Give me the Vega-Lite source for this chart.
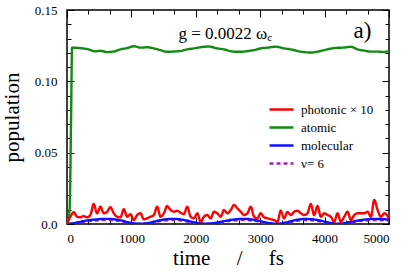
{
"$schema": "https://vega.github.io/schema/vega-lite/v6.json",
"width": 322, "height": 214,
"autosize": "none",
"padding": {"left": 67, "top": 10, "right": 18, "bottom": 48},
"config": {
  "view": {"stroke": "black", "strokeWidth": 1.5},
  "axis": {"grid": false, "domain": false, "tickColor": "black", "tickWidth": 1, "labelColor": "black", "titleColor": "black"}
},
"datasets": {"d": [
{"s":"ν= 6","t":0,"v":0},{"s":"ν= 6","t":100,"v":0.0004},{"s":"ν= 6","t":200,"v":0.0011},{"s":"ν= 6","t":300,"v":0.0018},{"s":"ν= 6","t":400,"v":0.0023},{"s":"ν= 6","t":500,"v":0.0026},{"s":"ν= 6","t":620,"v":0.0028},{"s":"ν= 6","t":750,"v":0.0025},{"s":"ν= 6","t":850,"v":0.0018},{"s":"ν= 6","t":950,"v":0.0009},{"s":"ν= 6","t":1050,"v":0.0003},{"s":"ν= 6","t":1140,"v":0.0001},{"s":"ν= 6","t":1250,"v":0.0004},{"s":"ν= 6","t":1350,"v":0.0012},{"s":"ν= 6","t":1450,"v":0.0021},{"s":"ν= 6","t":1550,"v":0.0026},{"s":"ν= 6","t":1650,"v":0.0028},{"s":"ν= 6","t":1750,"v":0.0026},{"s":"ν= 6","t":1850,"v":0.0019},{"s":"ν= 6","t":1950,"v":0.0011},{"s":"ν= 6","t":2070,"v":0.0004},{"s":"ν= 6","t":2180,"v":0.0001},{"s":"ν= 6","t":2300,"v":0.0006},{"s":"ν= 6","t":2420,"v":0.0014},{"s":"ν= 6","t":2530,"v":0.0022},{"s":"ν= 6","t":2640,"v":0.0026},{"s":"ν= 6","t":2750,"v":0.0028},{"s":"ν= 6","t":2860,"v":0.0025},{"s":"ν= 6","t":2970,"v":0.0018},{"s":"ν= 6","t":3080,"v":0.0009},{"s":"ν= 6","t":3180,"v":0.0003},{"s":"ν= 6","t":3270,"v":0.0001},{"s":"ν= 6","t":3380,"v":0.0007},{"s":"ν= 6","t":3480,"v":0.0015},{"s":"ν= 6","t":3580,"v":0.0023},{"s":"ν= 6","t":3680,"v":0.0027},{"s":"ν= 6","t":3790,"v":0.0026},{"s":"ν= 6","t":3900,"v":0.0021},{"s":"ν= 6","t":4000,"v":0.0013},{"s":"ν= 6","t":4100,"v":0.0005},{"s":"ν= 6","t":4200,"v":0.0001},{"s":"ν= 6","t":4300,"v":0.0004},{"s":"ν= 6","t":4420,"v":0.0012},{"s":"ν= 6","t":4540,"v":0.002},{"s":"ν= 6","t":4660,"v":0.0025},{"s":"ν= 6","t":4780,"v":0.0027},{"s":"ν= 6","t":4900,"v":0.0026},{"s":"ν= 6","t":5000,"v":0.0024},
{"s":"molecular","t":0,"v":0},{"s":"molecular","t":100,"v":0.0006},{"s":"molecular","t":200,"v":0.0015},{"s":"molecular","t":300,"v":0.0024},{"s":"molecular","t":400,"v":0.003},{"s":"molecular","t":500,"v":0.0034},{"s":"molecular","t":620,"v":0.0036},{"s":"molecular","t":750,"v":0.0032},{"s":"molecular","t":850,"v":0.0024},{"s":"molecular","t":950,"v":0.0012},{"s":"molecular","t":1050,"v":0.0004},{"s":"molecular","t":1140,"v":0.0002},{"s":"molecular","t":1250,"v":0.0006},{"s":"molecular","t":1350,"v":0.0016},{"s":"molecular","t":1450,"v":0.0027},{"s":"molecular","t":1550,"v":0.0034},{"s":"molecular","t":1650,"v":0.0036},{"s":"molecular","t":1750,"v":0.0033},{"s":"molecular","t":1850,"v":0.0025},{"s":"molecular","t":1950,"v":0.0014},{"s":"molecular","t":2070,"v":0.0005},{"s":"molecular","t":2180,"v":0.0002},{"s":"molecular","t":2300,"v":0.0008},{"s":"molecular","t":2420,"v":0.0018},{"s":"molecular","t":2530,"v":0.0028},{"s":"molecular","t":2640,"v":0.0034},{"s":"molecular","t":2750,"v":0.0036},{"s":"molecular","t":2860,"v":0.0032},{"s":"molecular","t":2970,"v":0.0024},{"s":"molecular","t":3080,"v":0.0012},{"s":"molecular","t":3180,"v":0.0004},{"s":"molecular","t":3270,"v":0.0002},{"s":"molecular","t":3380,"v":0.0009},{"s":"molecular","t":3480,"v":0.002},{"s":"molecular","t":3580,"v":0.003},{"s":"molecular","t":3680,"v":0.0035},{"s":"molecular","t":3790,"v":0.0034},{"s":"molecular","t":3900,"v":0.0027},{"s":"molecular","t":4000,"v":0.0017},{"s":"molecular","t":4100,"v":0.0007},{"s":"molecular","t":4200,"v":0.0002},{"s":"molecular","t":4300,"v":0.0006},{"s":"molecular","t":4420,"v":0.0016},{"s":"molecular","t":4540,"v":0.0026},{"s":"molecular","t":4660,"v":0.0033},{"s":"molecular","t":4780,"v":0.0035},{"s":"molecular","t":4900,"v":0.0034},{"s":"molecular","t":5000,"v":0.0031},
{"s":"atomic","t":0,"v":0},{"s":"atomic","t":40,"v":0.01},{"s":"atomic","t":65,"v":0.08},{"s":"atomic","t":78,"v":0.1236},{"s":"atomic","t":207,"v":0.1233},{"s":"atomic","t":336,"v":0.1224},{"s":"atomic","t":440,"v":0.1210},{"s":"atomic","t":518,"v":0.1214},{"s":"atomic","t":622,"v":0.1205},{"s":"atomic","t":726,"v":0.1209},{"s":"atomic","t":829,"v":0.1224},{"s":"atomic","t":933,"v":0.1233},{"s":"atomic","t":1040,"v":0.1246},{"s":"atomic","t":1140,"v":0.1236},{"s":"atomic","t":1245,"v":0.1239},{"s":"atomic","t":1348,"v":0.1231},{"s":"atomic","t":1452,"v":0.1219},{"s":"atomic","t":1556,"v":0.1207},{"s":"atomic","t":1659,"v":0.1209},{"s":"atomic","t":1763,"v":0.1213},{"s":"atomic","t":1867,"v":0.1224},{"s":"atomic","t":1970,"v":0.1231},{"s":"atomic","t":2074,"v":0.1239},{"s":"atomic","t":2200,"v":0.1244},{"s":"atomic","t":2334,"v":0.1231},{"s":"atomic","t":2437,"v":0.1224},{"s":"atomic","t":2593,"v":0.1208},{"s":"atomic","t":2697,"v":0.1207},{"s":"atomic","t":2800,"v":0.1212},{"s":"atomic","t":2904,"v":0.1219},{"s":"atomic","t":3008,"v":0.1231},{"s":"atomic","t":3112,"v":0.1236},{"s":"atomic","t":3241,"v":0.1243},{"s":"atomic","t":3371,"v":0.1231},{"s":"atomic","t":3475,"v":0.1224},{"s":"atomic","t":3630,"v":0.1208},{"s":"atomic","t":3786,"v":0.1202},{"s":"atomic","t":3890,"v":0.1208},{"s":"atomic","t":3993,"v":0.1219},{"s":"atomic","t":4149,"v":0.1233},{"s":"atomic","t":4304,"v":0.1237},{"s":"atomic","t":4408,"v":0.1242},{"s":"atomic","t":4512,"v":0.1224},{"s":"atomic","t":4615,"v":0.1215},{"s":"atomic","t":4719,"v":0.1208},{"s":"atomic","t":4823,"v":0.1208},{"s":"atomic","t":4927,"v":0.1206},{"s":"atomic","t":5000,"v":0.1214},
{"s":"photonic × 10","t":0,"v":0.0005},{"s":"photonic × 10","t":52,"v":0.0051},{"s":"photonic × 10","t":104,"v":0.0082},{"s":"photonic × 10","t":156,"v":0.0051},{"s":"photonic × 10","t":207,"v":0.0047},{"s":"photonic × 10","t":259,"v":0.0056},{"s":"photonic × 10","t":311,"v":0.0047},{"s":"photonic × 10","t":363,"v":0.0063},{"s":"photonic × 10","t":415,"v":0.014},{"s":"photonic × 10","t":467,"v":0.0075},{"s":"photonic × 10","t":519,"v":0.0121},{"s":"photonic × 10","t":571,"v":0.0075},{"s":"photonic × 10","t":622,"v":0.0086},{"s":"photonic × 10","t":674,"v":0.0117},{"s":"photonic × 10","t":726,"v":0.0075},{"s":"photonic × 10","t":778,"v":0.0051},{"s":"photonic × 10","t":830,"v":0.0047},{"s":"photonic × 10","t":882,"v":0.0103},{"s":"photonic × 10","t":934,"v":0.0051},{"s":"photonic × 10","t":986,"v":0.0068},{"s":"photonic × 10","t":1037,"v":0.0028},{"s":"photonic × 10","t":1089,"v":0.0063},{"s":"photonic × 10","t":1141,"v":0.0075},{"s":"photonic × 10","t":1193,"v":0.0033},{"s":"photonic × 10","t":1245,"v":0.004},{"s":"photonic × 10","t":1297,"v":0.0051},{"s":"photonic × 10","t":1349,"v":0.0063},{"s":"photonic × 10","t":1400,"v":0.0121},{"s":"photonic × 10","t":1452,"v":0.0051},{"s":"photonic × 10","t":1504,"v":0.0075},{"s":"photonic × 10","t":1556,"v":0.0126},{"s":"photonic × 10","t":1608,"v":0.0098},{"s":"photonic × 10","t":1660,"v":0.0086},{"s":"photonic × 10","t":1712,"v":0.0093},{"s":"photonic × 10","t":1763,"v":0.0079},{"s":"photonic × 10","t":1815,"v":0.007},{"s":"photonic × 10","t":1867,"v":0.0121},{"s":"photonic × 10","t":1919,"v":0.0051},{"s":"photonic × 10","t":1971,"v":0.004},{"s":"photonic × 10","t":2023,"v":0.0075},{"s":"photonic × 10","t":2075,"v":0.0016},{"s":"photonic × 10","t":2126,"v":0.0051},{"s":"photonic × 10","t":2178,"v":0.0063},{"s":"photonic × 10","t":2230,"v":0.004},{"s":"photonic × 10","t":2282,"v":0.0086},{"s":"photonic × 10","t":2334,"v":0.0075},{"s":"photonic × 10","t":2386,"v":0.0051},{"s":"photonic × 10","t":2438,"v":0.0098},{"s":"photonic × 10","t":2490,"v":0.0075},{"s":"photonic × 10","t":2542,"v":0.0098},{"s":"photonic × 10","t":2593,"v":0.0133},{"s":"photonic × 10","t":2645,"v":0.011},{"s":"photonic × 10","t":2697,"v":0.0086},{"s":"photonic × 10","t":2749,"v":0.0063},{"s":"photonic × 10","t":2801,"v":0.0075},{"s":"photonic × 10","t":2853,"v":0.0121},{"s":"photonic × 10","t":2905,"v":0.0051},{"s":"photonic × 10","t":2956,"v":0.004},{"s":"photonic × 10","t":3008,"v":0.0075},{"s":"photonic × 10","t":3060,"v":0.0047},{"s":"photonic × 10","t":3112,"v":0.004},{"s":"photonic × 10","t":3164,"v":0.0033},{"s":"photonic × 10","t":3216,"v":0.0028},{"s":"photonic × 10","t":3268,"v":0.0016},{"s":"photonic × 10","t":3319,"v":0.0093},{"s":"photonic × 10","t":3371,"v":0.004},{"s":"photonic × 10","t":3423,"v":0.0084},{"s":"photonic × 10","t":3475,"v":0.0063},{"s":"photonic × 10","t":3527,"v":0.0086},{"s":"photonic × 10","t":3579,"v":0.0093},{"s":"photonic × 10","t":3631,"v":0.0075},{"s":"photonic × 10","t":3682,"v":0.0063},{"s":"photonic × 10","t":3734,"v":0.0075},{"s":"photonic × 10","t":3786,"v":0.014},{"s":"photonic × 10","t":3838,"v":0.0063},{"s":"photonic × 10","t":3890,"v":0.0126},{"s":"photonic × 10","t":3942,"v":0.0051},{"s":"photonic × 10","t":3994,"v":0.0075},{"s":"photonic × 10","t":4045,"v":0.0063},{"s":"photonic × 10","t":4097,"v":0.0051},{"s":"photonic × 10","t":4149,"v":0.0016},{"s":"photonic × 10","t":4201,"v":0.0075},{"s":"photonic × 10","t":4253,"v":0.0016},{"s":"photonic × 10","t":4305,"v":0.0051},{"s":"photonic × 10","t":4356,"v":0.0086},{"s":"photonic × 10","t":4408,"v":0.0028},{"s":"photonic × 10","t":4460,"v":0.0063},{"s":"photonic × 10","t":4512,"v":0.0075},{"s":"photonic × 10","t":4564,"v":0.0075},{"s":"photonic × 10","t":4616,"v":0.0075},{"s":"photonic × 10","t":4668,"v":0.0086},{"s":"photonic × 10","t":4719,"v":0.0051},{"s":"photonic × 10","t":4771,"v":0.0168},{"s":"photonic × 10","t":4823,"v":0.0098},{"s":"photonic × 10","t":4875,"v":0.0051},{"s":"photonic × 10","t":4927,"v":0.0075},{"s":"photonic × 10","t":5000,"v":0.004}
]},
"layer": [
  {
    "data": {"name": "d"},
    "mark": {"type": "line", "interpolate": "monotone", "clip": true},
    "encoding": {
      "x": {"field": "t", "type": "quantitative", "scale": {"domain": [0, 5000], "nice": false},
            "axis": {"orient": "bottom", "values": [0,1000,2000,3000,4000,5000], "format": "d", "tickSize": -7, "labelPadding": 15, "labelFont": "Liberation Serif", "labelFontSize": 13, "title": "time\u00a0\u00a0\u00a0\u00a0\u00a0/\u00a0\u00a0\u00a0\u00a0\u00a0fs", "titleFont": "Liberation Serif", "titleFontSize": 21, "titleFontWeight": "normal", "titlePadding": 2}},
      "y": {"field": "v", "type": "quantitative", "scale": {"domain": [0, 0.15], "nice": false},
            "axis": {"orient": "left", "values": [0, 0.05, 0.1, 0.15], "tickSize": -7, "labelPadding": 17, "labelFont": "Liberation Serif", "labelFontSize": 13, "labelExpr": "datum.value === 0 ? '0.0' : datum.label", "title": "population", "titleFont": "Liberation Serif", "titleFontSize": 21, "titleFontWeight": "normal", "titlePadding": 12}},
      "color": {"field": "s", "type": "nominal",
                "scale": {"domain": ["photonic × 10", "atomic", "molecular", "ν= 6"], "range": ["#ff0000", "#138a13", "#1010ff", "#a020b0"]},
                "legend": {"orient": "none", "legendX": 207, "legendY": 92, "title": null, "symbolType": "M-2,0H2", "symbolSize": 144, "symbolStrokeWidth": 2.5, "rowPadding": 3, "labelOffset": 12, "labelFont": "Liberation Serif", "labelFontSize": 13, "labelColor": "black"}},
      "strokeDash": {"field": "s", "type": "nominal",
                "scale": {"domain": ["photonic × 10", "atomic", "molecular", "ν= 6"], "range": [[1,0],[1,0],[1,0],[4,3]]},
                "legend": {"orient": "none", "legendX": 207, "legendY": 92, "title": null, "symbolType": "M-2,0H2", "symbolSize": 144, "symbolStrokeWidth": 2.5, "rowPadding": 3, "labelOffset": 12, "labelFont": "Liberation Serif", "labelFontSize": 13, "labelColor": "black"}},
      "strokeWidth": {"field": "s", "type": "nominal",
                "scale": {"domain": ["photonic × 10", "atomic", "molecular", "ν= 6"], "range": [2.4, 2.4, 2.4, 1.5]}, "legend": null}
    }
  },
  {
    "data": {"name": "d"},
    "mark": {"type": "point", "opacity": 0},
    "encoding": {
      "x": {"field": "t", "type": "quantitative", "axis": {"orient": "bottom", "values": [333.33,666.67,1333.33,1666.67,2333.33,2666.67,3333.33,3666.67,4333.33,4666.67], "tickSize": -4, "labels": false, "title": null}},
      "y": {"field": "v", "type": "quantitative", "axis": {"orient": "left", "values": [0.01,0.02,0.03,0.04,0.06,0.07,0.08,0.09,0.11,0.12,0.13,0.14], "tickSize": -4, "labels": false, "title": null}}
    }
  },
  {
    "data": {"name": "d"},
    "mark": {"type": "point", "opacity": 0},
    "encoding": {
      "x": {"field": "t", "type": "quantitative", "axis": {"orient": "top", "values": [0,1000,2000,3000,4000,5000], "tickSize": -7, "labels": false, "title": null}},
      "y": {"field": "v", "type": "quantitative", "axis": {"orient": "right", "values": [0, 0.05, 0.1, 0.15], "tickSize": -7, "labels": false, "title": null}}
    }
  },
  {
    "data": {"name": "d"},
    "mark": {"type": "point", "opacity": 0},
    "encoding": {
      "x": {"field": "t", "type": "quantitative", "axis": {"orient": "top", "values": [333.33,666.67,1333.33,1666.67,2333.33,2666.67,3333.33,3666.67,4333.33,4666.67], "tickSize": -4, "labels": false, "title": null}},
      "y": {"field": "v", "type": "quantitative", "axis": {"orient": "right", "values": [0.01,0.02,0.03,0.04,0.06,0.07,0.08,0.09,0.11,0.12,0.13,0.14], "tickSize": -4, "labels": false, "title": null}}
    }
  },
  {
    "data": {"values": [{"label": "g = 0.0022 ω"}]},
    "mark": {"type": "text", "align": "left", "baseline": "alphabetic", "fontSize": 17, "font": "Liberation Serif", "color": "black"},
    "encoding": {
      "x": {"datum": 1730, "type": "quantitative", "axis": null},
      "y": {"datum": 0.1296, "type": "quantitative", "axis": null},
      "text": {"field": "label"}
    }
  },
  {
    "data": {"values": [{"label": "c"}]},
    "mark": {"type": "text", "align": "left", "baseline": "alphabetic", "fontSize": 11, "font": "Liberation Serif", "color": "black"},
    "encoding": {
      "x": {"datum": 3110, "type": "quantitative", "axis": null},
      "y": {"datum": 0.1282, "type": "quantitative", "axis": null},
      "text": {"field": "label"}
    }
  },
  {
    "data": {"values": [{"label": "a)"}]},
    "mark": {"type": "text", "align": "left", "baseline": "alphabetic", "fontSize": 23, "font": "Liberation Serif", "color": "black"},
    "encoding": {
      "x": {"datum": 4450, "type": "quantitative", "axis": null},
      "y": {"datum": 0.1303, "type": "quantitative", "axis": null},
      "text": {"field": "label"}
    }
  }
],
"resolve": {"axis": {"x": "independent", "y": "independent"}}
}
